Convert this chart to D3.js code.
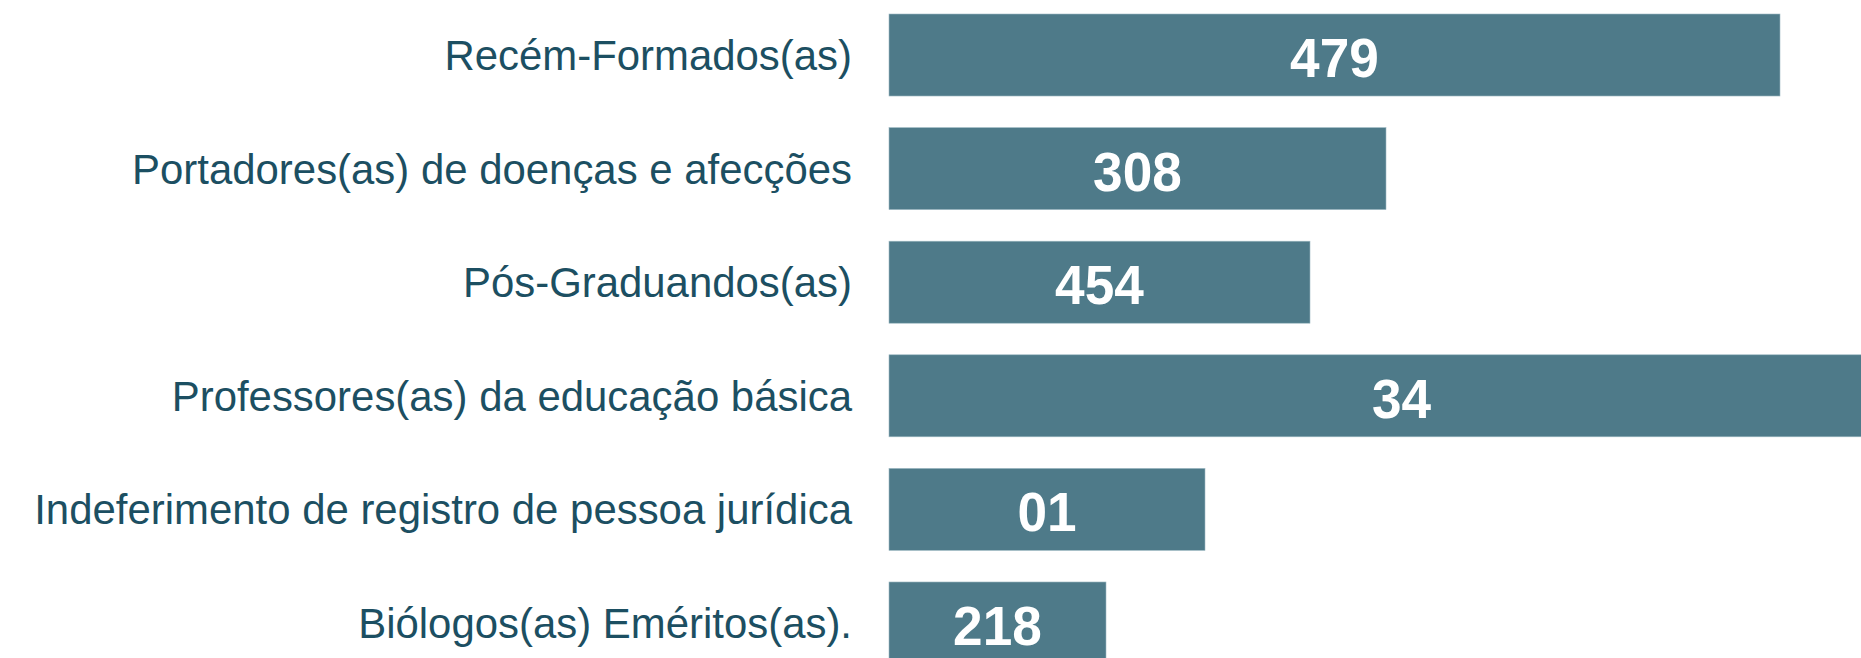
<!DOCTYPE html>
<html>
<head>
<meta charset="utf-8">
<script src="https://cdn.jsdelivr.net/npm/d3@7"></script>
<style>
  html, body { margin: 0; padding: 0; background: #ffffff; }
  svg { display: block; }
</style>
</head>
<body>
<div id="chart"></div>
<script>
// categories, top to bottom
const categories = [
  'Recém-Formados(as)',
  'Portadores(as) de doenças e afecções',
  'Pós-Graduandos(as)',
  'Professores(as) da educação básica',
  'Indeferimento de registro de pessoa jurídica',
  'Biólogos(as) Eméritos(as).'
];
// bar lengths as drawn (they do not follow the printed numbers)
const barValues = [891, 497, 421, 1025, 316, 217];
// numbers printed on the bars
const valueLabels = ['479', '308', '454', '34', '01', '218'];

const width = 1861, height = 658;
const barLeft = 889;
const textSqueeze = 0.975;
const numSqueeze = 0.95;

const svg = d3.select('#chart').append('svg')
  .attr('width', width)
  .attr('height', height);

const y = d3.scaleBand(categories, [14, 664])
  .paddingInner(0.278)
  .paddingOuter(0);

const x = d3.scaleLinear([0, 1000], [barLeft, barLeft + 1000]);

const data = categories.map((c, i) => ({ cat: c, v: barValues[i], lab: valueLabels[i] }));

svg.append('g').selectAll('rect')
  .data(data)
  .join('rect')
  .attr('x', x(0))
  .attr('y', d => y(d.cat))
  .attr('width', d => x(d.v) - x(0))
  .attr('height', y.bandwidth())
  .attr('fill', '#4e7a89')
  .attr('stroke', '#9fbac3')
  .attr('stroke-width', 0.6);

// category labels on the left
svg.append('g').selectAll('text')
  .data(data)
  .join('text')
  .attr('transform', d => `translate(${barLeft - 37},${y(d.cat) + y.bandwidth() / 2 + 15}) scale(${textSqueeze},1)`)
  .attr('text-anchor', 'end')
  .attr('font-family', '"Liberation Sans", Arial, Helvetica, sans-serif')
  .attr('font-size', 43)
  .attr('fill', '#1c4f62')
  .text(d => d.cat);

// value labels centred in the bars
svg.append('g').selectAll('text')
  .data(data)
  .join('text')
  .attr('transform', d => `translate(${(x(0) + x(d.v)) / 2},${y(d.cat) + y.bandwidth() / 2 + 22}) scale(${numSqueeze},1)`)
  .attr('text-anchor', 'middle')
  .attr('font-family', '"Liberation Sans", Arial, Helvetica, sans-serif')
  .attr('font-weight', 'bold')
  .attr('font-size', 56)
  .attr('fill', '#ffffff')
  .text(d => d.lab);
</script>
</body>
</html>
